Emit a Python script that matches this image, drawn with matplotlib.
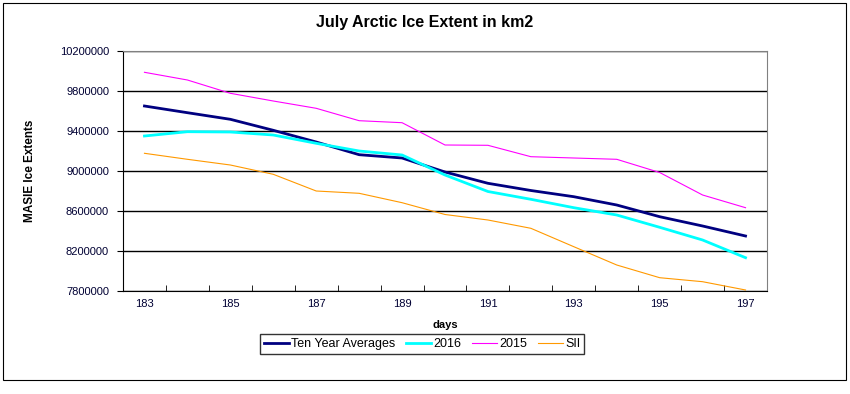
import matplotlib
matplotlib.use("Agg")
import matplotlib.pyplot as plt
from matplotlib.patches import Rectangle
from matplotlib.ticker import FixedLocator, StrMethodFormatter

plt.rcParams['font.family'] = ['Liberation Sans', 'DejaVu Sans']

days = list(range(183, 198))
ten_year = [9650000, 9583000, 9517000, 9407000, 9290000, 9163000, 9130000, 8990000,
            8877000, 8805000, 8743000, 8660000, 8543000, 8450000, 8350000]
y2016 = [9350000, 9393000, 9390000, 9360000, 9277000, 9200000, 9160000, 8960000,
         8795000, 8717000, 8633000, 8560000, 8437000, 8310000, 8133000]
y2015 = [9987000, 9910000, 9777000, 9700000, 9627000, 9503000, 9483000, 9260000,
         9257000, 9143000, 9130000, 9117000, 8985000, 8760000, 8633000]
sii = [9177000, 9117000, 9060000, 8967000, 8800000, 8777000, 8683000, 8565000,
       8510000, 8427000, 8243000, 8060000, 7933000, 7893000, 7810000]

fig = plt.figure(figsize=(8.5, 3.94), dpi=100)
ax = fig.add_axes([123 / 850, 1 - 291 / 394, 644 / 850, 240 / 394])

ax.plot(days, ten_year, color='#000080', lw=2.0, label='Ten Year Averages')
ax.plot(days, y2016, color='#00FFFF', lw=2.0, label='2016')
ax.plot(days, y2015, color='#FF00FF', lw=0.8, label='2015')
ax.plot(days, sii, color='#FF9900', lw=0.8, label='SII')

ax.set_xlim(182.5, 197.5)
ax.set_ylim(7800000, 10200000)
ax.set_yticks(range(7800000, 10200001, 400000))
ax.yaxis.set_major_formatter(StrMethodFormatter('{x:.0f}'))
ax.yaxis.grid(True, color='black', lw=1)
ax.set_axisbelow(True)

ax.xaxis.set_major_locator(FixedLocator(days[::2]))
ax.xaxis.set_minor_locator(FixedLocator([d - 0.5 for d in days] + [197.5]))
ax.tick_params(axis='x', which='major', length=0, pad=6, labelsize=8, labelcolor='#000033')
ax.tick_params(axis='x', which='minor', direction='in', length=4, color='black')
ax.tick_params(axis='y', direction='out', length=4, pad=6, labelsize=8, labelcolor='#000033')

ax.spines['top'].set_color('#808080')
ax.spines['right'].set_color('#808080')
ax.spines['left'].set_color('black')
ax.spines['bottom'].set_color('black')

ax.set_xlabel('days', fontsize=8, fontweight='bold', labelpad=8)
ax.set_ylabel('MASIE Ice Extents', fontsize=8.5, fontweight='bold')
ax.yaxis.set_label_coords(-87 / 644, 0.5)
fig.text(0.5, 1 - 22 / 394, 'July Arctic Ice Extent in km2', ha='center', va='center',
         fontsize=11.5, fontweight='bold')

leg = fig.legend(loc='center', bbox_to_anchor=(422 / 850, 1 - 344 / 394), ncol=4,
                 fontsize=9, frameon=True, fancybox=False, edgecolor='black',
                 handlelength=2.0, handletextpad=0.15, columnspacing=0.9,
                 borderpad=0.3)
leg.get_frame().set_linewidth(1)

fig.patches.append(Rectangle((3 / 850, 1 - 380 / 394), 843 / 850, 377 / 394,
                             transform=fig.transFigure, fill=False,
                             edgecolor='black', lw=0.8))

fig.savefig('out.png', dpi=100)
